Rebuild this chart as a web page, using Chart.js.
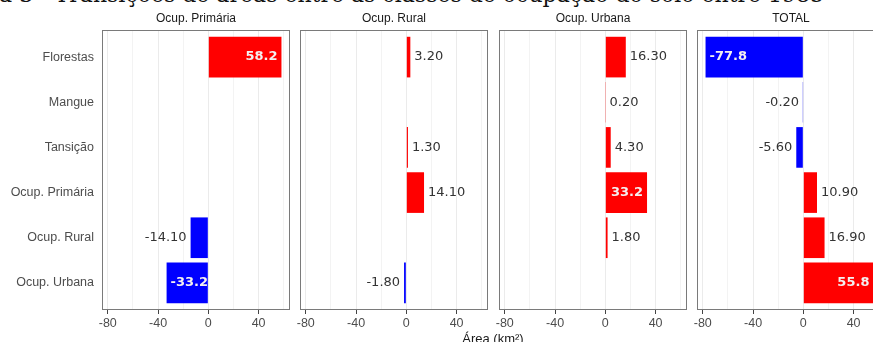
<!DOCTYPE html>
<html>
<head>
<meta charset="utf-8">
<script src="https://cdn.jsdelivr.net/npm/chart.js@4"></script>
<style>
  html, body { margin: 0; padding: 0; background: #fff; }
  #page { position: relative; width: 873px; height: 342px; overflow: hidden; background: #fff; }
  canvas.panel { position: absolute; top: 0; }
  #caption { position: absolute; left: -62px; top: -16px; font-family: "DejaVu Serif", serif; font-size: 22px; line-height: 22px; white-space: nowrap; color: #111; }
  #xtitle { position: absolute; left: 102px; width: 782px; top: 332px; text-align: center; font-family: "Liberation Sans", Arial, sans-serif; font-size: 13px; line-height: 13px; color: #1a1a1a; }
</style>
</head>
<body>
<div id="page">
  <div id="caption">Figura 3 - Transições de áreas entre as classes de ocupação do solo entre 1985</div>
  <canvas id="p1" class="panel" width="310" height="342" style="left:0px"></canvas>
  <canvas id="p2" class="panel" width="228" height="342" style="left:280px"></canvas>
  <canvas id="p3" class="panel" width="228" height="342" style="left:479px"></canvas>
  <canvas id="p4" class="panel" width="228" height="342" style="left:677px"></canvas>
  <div id="xtitle">Área (km²)</div>
</div>
<script>
// Land-cover classes (rows) and the four destination facets
const categories = ['Florestas', 'Mangue', 'Tansição', 'Ocup. Primária', 'Ocup. Rural', 'Ocup. Urbana'];
const facets = ['Ocup. Primária', 'Ocup. Rural', 'Ocup. Urbana', 'TOTAL'];

// Area change (km²) per class, one array per facet; null = no transition
const ocupPrimaria = [58.2, null, null, null, -14.1, -33.2];
const ocupRural    = [3.2, null, 1.3, 14.1, null, -1.8];
const ocupUrbana   = [16.3, 0.2, 4.3, 33.2, 1.8, null];
const total        = [-77.8, -0.2, -5.6, 10.9, 16.9, 55.8];

// Shared x axis
const xTickLabels = [-80, -40, 0, 40];
const xGridValues = [-80, -60, -40, -20, 0, 20, 40, 60];
const xMin = -84.6, xMax = 65.0;

const RED = '#ff0000';
const BLUE = '#0000ff';
const SIDE_PAD = 20;

function panelDecor(title) {
  return {
    id: 'panelDecor',
    afterDatasetsDraw(chart) {
      const { ctx, chartArea: a } = chart;
      ctx.save();
      // panel border
      ctx.strokeStyle = '#7a7a7a';
      ctx.lineWidth = 1;
      ctx.strokeRect(a.left + 0.5, a.top + 0.5, a.right - a.left - 1, a.bottom - a.top - 1);
      // facet strip label
      ctx.fillStyle = '#1a1a1a';
      ctx.font = '12px "Liberation Sans", Arial, sans-serif';
      ctx.textAlign = 'center';
      ctx.textBaseline = 'middle';
      ctx.fillText(title, (a.left + a.right) / 2, 19);
      ctx.restore();
    }
  };
}

const valueLabels = {
  id: 'valueLabels',
  afterDatasetsDraw(chart) {
    const ctx = chart.ctx;
    const ds = chart.data.datasets[0];
    chart.getDatasetMeta(0).data.forEach((bar, i) => {
      const v = ds.data[i].x;
      const inside = Math.abs(v) >= 30;
      const neg = v < 0;
      ctx.save();
      ctx.textBaseline = 'middle';
      if (inside) {
        ctx.font = 'bold 13px "DejaVu Sans", sans-serif';
        ctx.fillStyle = '#f4f0f0';
        ctx.textAlign = neg ? 'left' : 'right';
        ctx.fillText(v.toFixed(1), bar.x + (neg ? 4 : -4), bar.y);
      } else {
        ctx.font = '13px "DejaVu Sans", sans-serif';
        ctx.fillStyle = '#333333';
        ctx.textAlign = neg ? 'right' : 'left';
        ctx.fillText(v.toFixed(2), bar.x + (neg ? -4 : 4), bar.y);
      }
      ctx.restore();
    });
  }
};

function makePanel(id, title, values, withY) {
  const points = values
    .map((v, i) => ({ x: v, y: i }))
    .filter(p => p.x !== null);
  return new Chart(document.getElementById(id), {
    type: 'bar',
    data: {
      datasets: [{
        data: points,
        backgroundColor: c => (c.raw && c.raw.x < 0) ? BLUE : RED,
        borderWidth: 0,
        categoryPercentage: 1,
        barPercentage: 0.9
      }]
    },
    options: {
      indexAxis: 'y',
      responsive: false,
      animation: false,
      devicePixelRatio: 1,
      layout: { padding: { top: 30, bottom: 0, left: withY ? 0 : SIDE_PAD, right: SIDE_PAD } },
      plugins: { legend: { display: false }, tooltip: { enabled: false }, title: { display: false } },
      scales: {
        x: {
          type: 'linear',
          position: 'bottom',
          min: xMin,
          max: xMax,
          offset: false,
          afterBuildTicks: s => { s.ticks = xGridValues.map(v => ({ value: v })); },
          afterFit: s => { s.height = 32; },
          ticks: {
            callback: v => xTickLabels.includes(v) ? String(v) : '',
            color: '#4d4d4d',
            font: { family: '"Liberation Sans", Arial, sans-serif', size: 12.5 },
            padding: 2,
            maxRotation: 0,
            autoSkip: false
          },
          grid: {
            offset: false,
            color: c => (c.tick && xTickLabels.includes(c.tick.value)) ? '#ebebeb' : '#f3f3f3',
            lineWidth: 1,
            drawTicks: true,
            tickLength: 4,
            tickColor: c => (c.tick && xTickLabels.includes(c.tick.value)) ? '#444444' : 'rgba(0,0,0,0)'
          },
          border: { display: false }
        },
        y: {
          type: 'linear',
          reverse: true,
          min: -0.6,
          max: 5.6,
          offset: false,
          display: withY,
          afterBuildTicks: s => { s.ticks = categories.map((_, i) => ({ value: i })); },
          afterFit: s => { s.width = withY ? 102 : 0; },
          ticks: {
            callback: v => categories[v] ?? '',
            color: '#4d4d4d',
            font: { family: '"Liberation Sans", Arial, sans-serif', size: 12.5 },
            padding: 8,
            autoSkip: false
          },
          grid: { display: false, drawTicks: false, offset: false },
          border: { display: false }
        }
      }
    },
    plugins: [panelDecor(title), valueLabels]
  });
}

makePanel('p1', facets[0], ocupPrimaria, true);
makePanel('p2', facets[1], ocupRural, false);
makePanel('p3', facets[2], ocupUrbana, false);
makePanel('p4', facets[3], total, false);
</script>
</body>
</html>
